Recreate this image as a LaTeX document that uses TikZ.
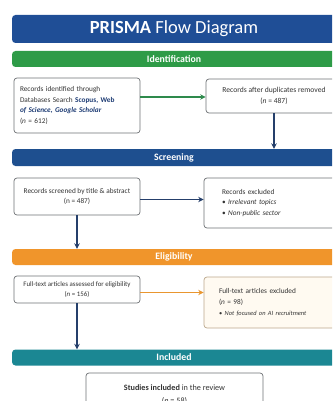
\documentclass[tikz,border=0pt]{standalone}
\usepackage{fontspec}
\setmainfont{Carlito}
\usepackage{xcolor}
\usepackage{tikz}
\usetikzlibrary{positioning}
\usetikzlibrary{arrows.meta}

\definecolor{titleblue}{HTML}{1F4E96}
\definecolor{idgreen}{HTML}{2E9B47}
\definecolor{screenblue}{HTML}{1E4F8F}
\definecolor{eligorange}{HTML}{F0952B}
\definecolor{inclteal}{HTML}{1B8793}
\definecolor{boxgray}{HTML}{6E7275}
\definecolor{creamfill}{HTML}{FFFAF1}
\definecolor{creamline}{HTML}{BBA78C}
\definecolor{arrowblue}{HTML}{253F6B}
\definecolor{arrowgreen}{HTML}{2E8A4C}
\definecolor{arroworange}{HTML}{E9962F}
\definecolor{dbblue}{HTML}{1F3D75}

\begin{document}
\begin{tikzpicture}[x=1pt,y=-1pt,
    font=\fontsize{7.3}{10.4}\selectfont,
    bar/.style={rectangle,rounded corners=3.5pt,minimum width=324pt,minimum height=16pt,
                inner sep=0pt,text=white,font=\fontsize{9.8}{11}\selectfont\bfseries},
    rbox/.style={rectangle,rounded corners=3pt,draw=boxgray,line width=0.7pt,fill=white,
                 inner sep=0pt,text=black!80},
    flow/.style={line width=1.3pt,-{Stealth[length=5.5pt,width=5.5pt]}}]
    \useasboundingbox (0,0) rectangle (332,401);
    \clip (0,0) rectangle (332,401);
    % phase bars
    \node[bar,fill=titleblue,minimum height=28pt,font=\fontsize{18.5}{20}\selectfont] (title) at (174,29) {\textbf{PRISMA} Flow Diagram};
    \node[bar,fill=idgreen] (ident) at (174,59) {Identification};
    \node[bar,fill=screenblue,minimum height=17pt] (screen) at (174,157.5) {Screening};
    \node[bar,fill=eligorange] (elig) at (174,257) {Eligibility};
    \node[bar,fill=inclteal] (incl) at (174,357.5) {Included};
    % boxes
    \node[rbox,minimum width=126pt,minimum height=55pt,text width=114pt,align=left] (found) at (77,105.5)
        {Records identified through\\Databases Search {\color{dbblue}\textbf{Scopus, Web}}\\{\color{dbblue}\textbf{\textit{of Science, Google Scholar}}}\\(\textit{n} = 612)};
    \node[rbox,minimum width=136pt,minimum height=34pt,align=center,font=\fontsize{7.6}{10.4}\selectfont] (dedup) at (274,96)
        {Records after duplicates removed\\(\textit{n} = 487)};
    \node[rbox,minimum width=126pt,minimum height=37pt,align=center] (screened) at (77,196.5)
        {Records screened by title \& abstract\\(n = 487)};
    \node[rbox,minimum width=148pt,minimum height=50pt,text width=112pt,align=left] (excl) at (278,203)
        {Records excluded\\\textbullet\ \textit{Irrelevant topics}\\\textbullet\ \textit{Non-public sector}};
    \node[rbox,minimum width=126pt,minimum height=27pt,align=center,font=\fontsize{6.9}{10.4}\selectfont] (fulltext) at (77,289.5)
        {Full-text articles assessed for eligibility\\(\textit{n} = 156)};
    \node[rbox,draw=creamline,fill=creamfill,minimum width=156pt,minimum height=51pt,text width=126pt,align=left] (ftexcl) at (282,302.5)
        {Full-text articles excluded\\(\textit{n} = 98)\\[1pt]{\fontsize{6.4}{8}\selectfont\textbullet\ \textit{Not focused on AI recruitment}}};
    \node[rbox,minimum width=177pt,minimum height=44pt,align=center,font=\fontsize{8.2}{13}\selectfont] (studies) at (174.5,395)
        {\textbf{Studies included} in the review\\(\textit{n} = 58)};
    % connectors
    \draw[flow,arrowgreen] ([yshift=-1pt]dedup.west -| found.east) -- ([yshift=-1pt]dedup.west);
    \draw[flow,arrowblue] (dedup.south) -- (dedup.south |- screen.north);
    \draw[flow,arrowblue] ([yshift=-3pt]screened.east) -- ([yshift=-3pt]screened.east -| excl.west);
    \draw[flow,arrowblue] (screened.south) -- (screened.south |- elig.north);
    \draw[flow,arroworange] ([yshift=-3pt]fulltext.east) -- ([yshift=-3pt]fulltext.east -| ftexcl.west);
    \draw[flow,arrowblue] (fulltext.south) -- (fulltext.south |- incl.north);
\end{tikzpicture}
\end{document}
